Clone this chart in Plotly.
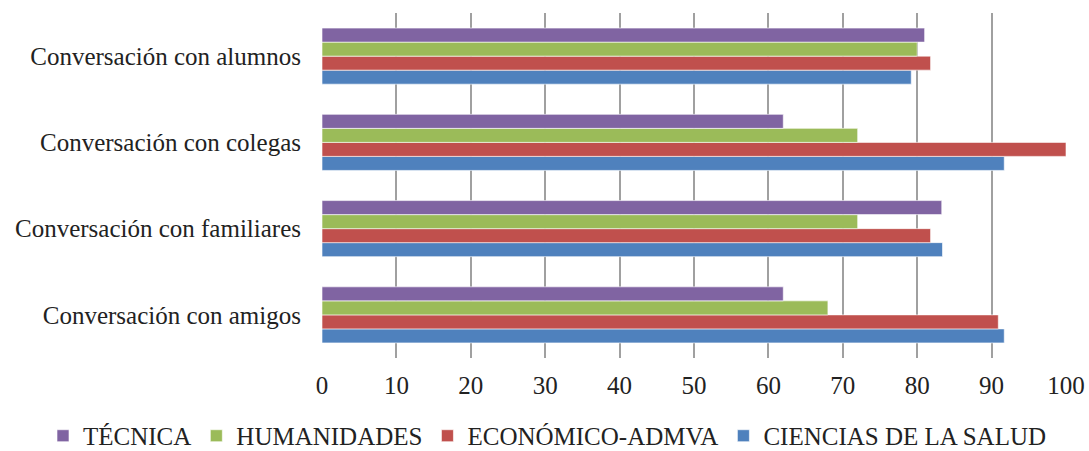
import plotly.graph_objects as go

categorias = ["Conversación con amigos", "Conversación con familiares",
              "Conversación con colegas", "Conversación con alumnos"]
ciencias_salud = [91.7, 83.4, 91.7, 79.2]
economico_admva = [90.9, 81.8, 100.0, 81.8]
humanidades = [68.0, 72.0, 72.0, 80.0]
tecnica = [62.0, 83.3, 62.0, 81.0]
ticks_x = [0, 10, 20, 30, 40, 50, 60, 70, 80, 90, 100]

series = [
    ("CIENCIAS DE LA SALUD", ciencias_salud, "#4F81BD"),
    ("ECONÓMICO-ADMVA", economico_admva, "#C0504D"),
    ("HUMANIDADES", humanidades, "#9BBB59"),
    ("TÉCNICA", tecnica, "#8064A2"),
]

fig = go.Figure()
for name, vals, color in series:
    fig.add_trace(go.Bar(
        y=categorias, x=vals, name=name, orientation="h",
        marker=dict(color=color, line=dict(color="rgba(255,255,255,0.6)", width=1)),
    ))

FONT = "Liberation Serif"
fig.update_layout(
    width=1089, height=451,
    margin=dict(l=322, r=23, t=13, b=93, autoexpand=False),
    barmode="group", bargap=0.35, bargroupgap=0.0,
    plot_bgcolor="white", paper_bgcolor="white",
    font=dict(family=FONT, size=25, color="#222222"),
    xaxis=dict(range=[0, 100], tickvals=ticks_x, showgrid=True,
               gridcolor="#A0A0A0", gridwidth=2, zeroline=False,
               showline=False, ticks="", ticklabelstandoff=10,
               tickfont=dict(family=FONT, size=25, color="#222222")),
    yaxis=dict(showgrid=False, showline=False, ticks="", ticklabelstandoff=20,
               categoryorder="array", categoryarray=categorias,
               tickfont=dict(family=FONT, size=25, color="#222222")),
    legend=dict(orientation="h", traceorder="reversed", x=-0.375, xanchor="left",
                y=-0.226, yanchor="middle", font=dict(family=FONT, size=25, color="#222222"),
                itemwidth=30, tracegroupgap=0),
    showlegend=True,
)

fig.write_html("out.html")
